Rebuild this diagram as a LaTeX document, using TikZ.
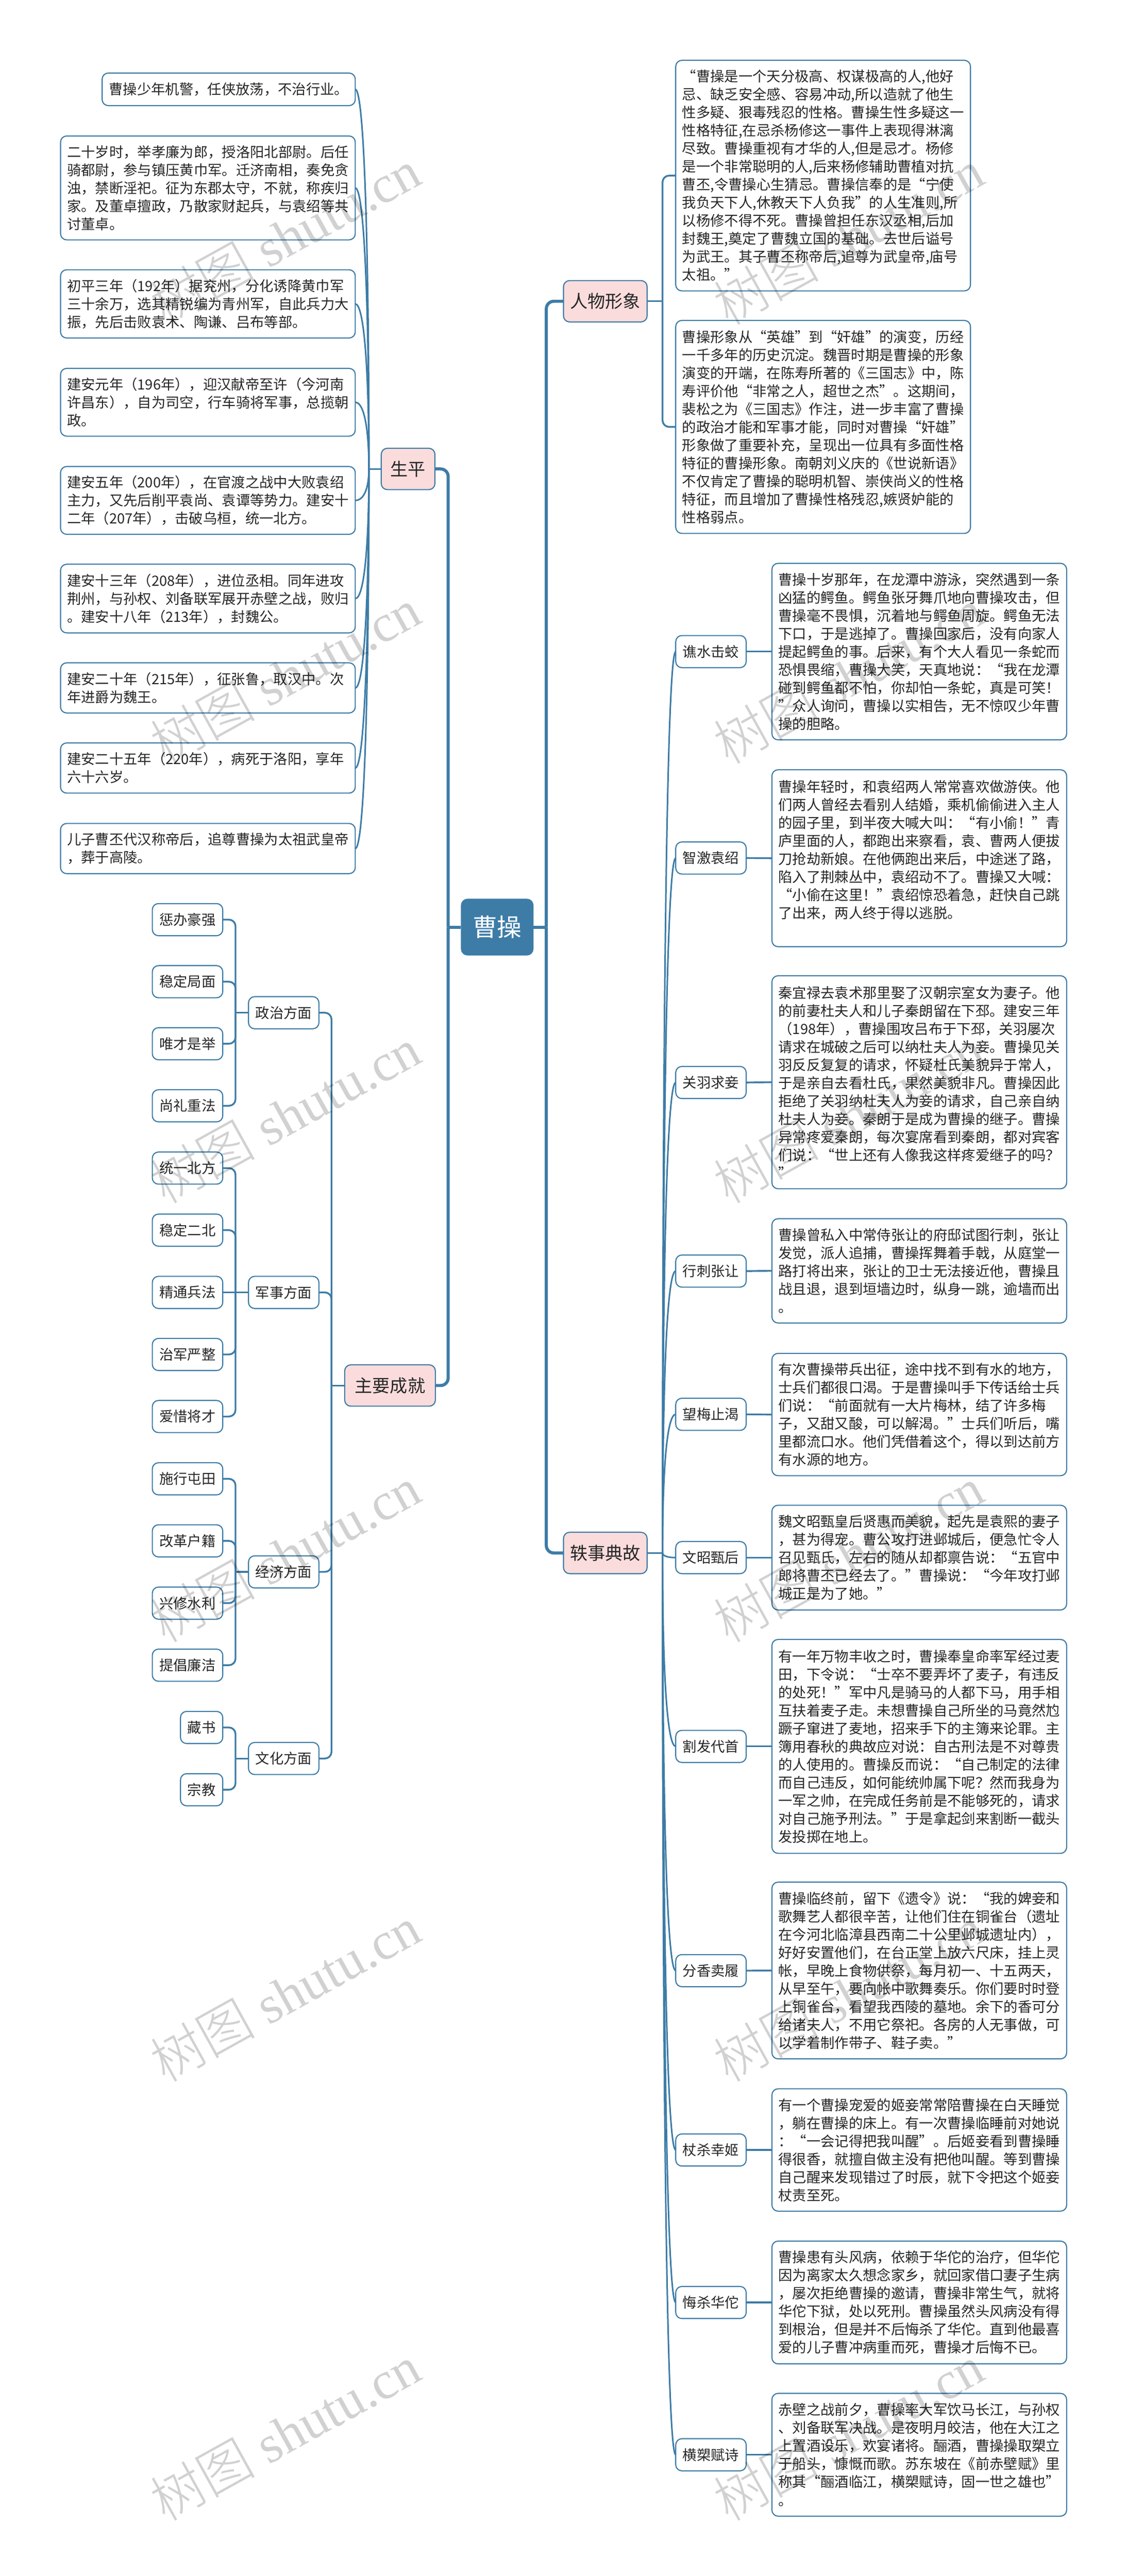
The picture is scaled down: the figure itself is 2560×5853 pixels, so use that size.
\documentclass[tikz,border=0pt]{standalone}
\usepackage{fontspec}
\setmainfont{Noto Sans CJK SC}
\newfontfamily\wmfont{Liberation Serif}
\newfontfamily\wmcjk{Noto Sans CJK SC Light}
\definecolor{mapblue}{HTML}{3D7CA6}
\definecolor{mappink}{HTML}{FBDCDC}
\definecolor{textdark}{HTML}{262626}
\tikzset{
	tagbox/.style={draw=mapblue, line width=2.5pt, rounded corners=14pt, fill=white, text=textdark, inner sep=0pt, outer sep=0pt, minimum width=160pt, minimum height=73pt, font=\fontsize{32}{41}\selectfont},
	notebox/.style={tagbox, anchor=north west, minimum height=0pt, minimum width=0pt, align=left, text width=640pt, inner xsep=14.75pt},
	topicbox/.style={tagbox, fill=mappink, minimum height=94pt, font=\fontsize{40}{48}\selectfont},
	rootbox/.style={draw=none, fill=mapblue, text=white, rounded corners=15pt, inner sep=0pt, outer sep=0pt, minimum width=165pt, minimum height=129pt, font=\fontsize{56}{64}\selectfont},
	trunkline/.style={draw=mapblue, line width=7pt, rounded corners=17pt},
	elbowline/.style={draw=mapblue, line width=4pt, rounded corners=15pt},
	curveline/.style={draw=mapblue, line width=3.5pt},
	wmark/.style={text=black, opacity=0.18, rotate=29, inner sep=0pt, font=\wmfont\fontsize{120}{120}\selectfont}
}

\begin{document}
\begin{tikzpicture}[x=1pt, y=-1pt]
		%%%%% START %%%%%
		\useasboundingbox (0, 0) rectangle (2560, 5853);
		\fill[white] (0, 0) rectangle (2560, 5853);
		
		\node[rootbox] (caocao) at (1129.5, 2106.5) {曹操};
		
		\node[topicbox, minimum width=122pt] (shengping) at (927, 1065.5) {生平};
		\node[topicbox, minimum width=206pt] (chengjiu) at (886, 3148) {主要成就};
		\node[topicbox, minimum width=190pt] (renwu) at (1375, 684.5) {人物形象};
		\node[topicbox, minimum width=190pt] (yishi) at (1375, 3528.5) {轶事典故};
		
		%%%%% left top %%%%%
		\node[notebox, text width=544pt, inner xsep=15.5pt, minimum height=74pt] (spa) at (232, 166) {曹操少年机警，任侠放荡，不治行业。};
		\node[notebox, minimum height=236pt] (spb) at (137.5, 309) {二十岁时，举孝廉为郎，授洛阳北部尉。后任\\骑都尉，参与镇压黄巾军。迁济南相，奏免贪\\浊，禁断淫祀。征为东郡太守，不就，称疾归\\家。及董卓擅政，乃散家财起兵，与袁绍等共\\讨董卓。};
		\node[notebox, minimum height=155pt] (spc) at (137.5, 613) {初平三年（192年）据兖州，分化诱降黄巾军\\三十余万，选其精锐编为青州军，自此兵力大\\振，先后击败袁术、陶谦、吕布等部。};
		\node[notebox, minimum height=154pt] (spd) at (137.5, 837) {建安元年（196年），迎汉献帝至许（今河南\\许昌东），自为司空，行车骑将军事，总揽朝\\政。};
		\node[notebox, minimum height=154pt] (spe) at (137.5, 1060) {建安五年（200年），在官渡之战中大败袁绍\\主力，又先后削平袁尚、袁谭等势力。建安十\\二年（207年），击破乌桓，统一北方。};
		\node[notebox, minimum height=156pt] (spf) at (137.5, 1282) {建安十三年（208年），进位丞相。同年进攻\\荆州，与孙权、刘备联军展开赤壁之战，败归\\。建安十八年（213年），封魏公。};
		\node[notebox, minimum height=114pt] (spg) at (137.5, 1506) {建安二十年（215年），征张鲁，取汉中。次\\年进爵为魏王。};
		\node[notebox, minimum height=114pt] (sph) at (137.5, 1688) {建安二十五年（220年），病死于洛阳，享年\\六十六岁。};
		\node[notebox, minimum height=114pt] (spi) at (137.5, 1871) {儿子曹丕代汉称帝后，追尊曹操为太祖武皇帝\\，葬于高陵。};
		\coordinate (spjoin) at (838, 1065.5);
		
		\foreach \n/\c in {a/-517, b/-383, c/-225, d/-91, e/43, f/177, g/298, h/408, i/517}
			\draw[curveline] (sp\n.east) .. controls +(20, 0) and +(0, \c) .. (spjoin);
		\draw[elbowline] (spjoin) -- (shengping.west);
		
		%%%%% left bottom %%%%%
		\node[tagbox, minimum width=160pt] (zza) at (426, 2089.5) {惩办豪强};
		\node[tagbox] (zzb) at (426, 2230.5) {稳定局面};
		\node[tagbox] (zzc) at (426, 2371.5) {唯才是举};
		\node[tagbox] (zzd) at (426, 2512.5) {尚礼重法};
		\node[tagbox] (jsa) at (426, 2654) {统一北方};
		\node[tagbox] (jsb) at (426, 2795) {稳定二北};
		\node[tagbox] (jsc) at (426, 2936.5) {精通兵法};
		\node[tagbox] (jsd) at (426, 3077.5) {治军严整};
		\node[tagbox] (jse) at (426, 3218.5) {爱惜将才};
		\node[tagbox] (jja) at (426, 3360) {施行屯田};
		\node[tagbox] (jjb) at (426, 3501) {改革户籍};
		\node[tagbox] (jjc) at (426, 3642.5) {兴修水利};
		\node[tagbox] (jjd) at (426, 3783.5) {提倡廉洁};
		\node[tagbox, minimum width=96pt] (wha) at (458, 3925) {藏书};
		\node[tagbox, minimum width=96pt] (whb) at (458, 4066.5) {宗教};
		
		\node[tagbox] (zz) at (644.5, 2301) {政治方面};
		\node[tagbox] (js) at (644.5, 2936.5) {军事方面};
		\node[tagbox] (jj) at (644.5, 3571.5) {经济方面};
		\node[tagbox] (wh) at (644.5, 3995.5) {文化方面};
		
		\coordinate (zzjoin) at (535, 2301);
		\coordinate (jsjoin) at (535, 2936.5);
		\coordinate (jjjoin) at (535, 3571.5);
		\coordinate (whjoin) at (535, 3995.5);
		\coordinate (cjjoin) at (753, 3148);
		
		\foreach \n in {zza, zzb, zzc, zzd}
			\draw[elbowline] (\n.east) -| (zzjoin);
		\foreach \n in {jsa, jsb, jsd, jse}
			\draw[elbowline] (\n.east) -| (jsjoin);
		\foreach \n in {jja, jjb, jjc, jjd}
			\draw[elbowline] (\n.east) -| (jjjoin);
		\foreach \n in {wha, whb}
			\draw[elbowline] (\n.east) -| (whjoin);
		\draw[elbowline] (jsc.east) -- (js.west);
		\draw[elbowline] (zzjoin) -- (zz.west);
		\draw[elbowline] (jjjoin) -- (jj.west);
		\draw[elbowline] (whjoin) -- (wh.west);
		
		\foreach \n in {zz, js, jj, wh}
			\draw[elbowline] (\n.east) -| (cjjoin);
		\draw[elbowline] (cjjoin) -- (chengjiu.west);
		
		%%%%% right top %%%%%
		\node[notebox, minimum height=524pt] (rwa) at (1535, 137) {“曹操是一个天分极高、权谋极高的人,他好\\忌、缺乏安全感、容易冲动,所以造就了他生\\性多疑、狠毒残忍的性格。曹操生性多疑这一\\性格特征,在忌杀杨修这一事件上表现得淋漓\\尽致。曹操重视有才华的人,但是忌才。杨修\\是一个非常聪明的人,后来杨修辅助曹植对抗\\曹丕,令曹操心生猜忌。曹操信奉的是“宁使\\我负天下人,休教天下人负我”的人生准则,所\\以杨修不得不死。曹操曾担任东汉丞相,后加\\封魏王,奠定了曹魏立国的基础。去世后谥号\\为武王。其子曹丕称帝后,追尊为武皇帝,庙号\\太祖。”};
		\node[notebox, minimum height=484pt] (rwb) at (1535, 728) {曹操形象从“英雄”到“奸雄”的演变，历经\\一千多年的历史沉淀。魏晋时期是曹操的形象\\演变的开端，在陈寿所著的《三国志》中，陈\\寿评价他“非常之人，超世之杰”。这期间，\\裴松之为《三国志》作注，进一步丰富了曹操\\的政治才能和军事才能，同时对曹操“奸雄”\\形象做了重要补充，呈现出一位具有多面性格\\特征的曹操形象。南朝刘义庆的《世说新语》\\不仅肯定了曹操的聪明机智、崇侠尚义的性格\\特征，而且增加了曹操性格残忍,嫉贤妒能的\\性格弱点。};
		\coordinate (rwjoin) at (1505, 684.5);
		
		\foreach \n in {rwa, rwb}
			\draw[elbowline] (\n.west) -| (rwjoin);
		\draw[elbowline] (renwu.east) -- (rwjoin);
		
		%%%%% right bottom %%%%%
		\node[tagbox] (yia) at (1615, 1480.5) {谯水击蛟};
		\node[tagbox] (yib) at (1615, 1949.5) {智激袁绍};
		\node[tagbox] (yic) at (1615, 2459.5) {关羽求妾};
		\node[tagbox] (yid) at (1615, 2888) {行刺张让};
		\node[tagbox] (yie) at (1615, 3213.5) {望梅止渴};
		\node[tagbox] (yif) at (1615, 3539) {文昭甄后};
		\node[tagbox] (yig) at (1615, 3968) {割发代首};
		\node[tagbox] (yih) at (1615, 4477.5) {分香卖履};
		\node[tagbox] (yii) at (1615, 4885) {杖杀幸姬};
		\node[tagbox] (yij) at (1615, 5231.5) {悔杀华佗};
		\node[tagbox] (yik) at (1615, 5577.5) {横槊赋诗};
		
		\node[notebox, minimum height=401pt] (tya) at (1753.5, 1280) {曹操十岁那年，在龙潭中游泳，突然遇到一条\\凶猛的鳄鱼。鳄鱼张牙舞爪地向曹操攻击，但\\曹操毫不畏惧，沉着地与鳄鱼周旋。鳄鱼无法\\下口，于是逃掉了。曹操回家后，没有向家人\\提起鳄鱼的事。后来，有个大人看见一条蛇而\\恐惧畏缩，曹操大笑，天真地说：“我在龙潭\\碰到鳄鱼都不怕，你却怕一条蛇，真是可笑！\\”众人询问，曹操以实相告，无不惊叹少年曹\\操的胆略。};
		\node[notebox, minimum height=402pt] (tyb) at (1753.5, 1749) {曹操年轻时，和袁绍两人常常喜欢做游侠。他\\们两人曾经去看别人结婚，乘机偷偷进入主人\\的园子里，到半夜大喊大叫：“有小偷！”青\\庐里面的人，都跑出来察看，袁、曹两人便拔\\刀抢劫新娘。在他俩跑出来后，中途迷了路，\\陷入了荆棘丛中，袁绍动不了。曹操又大喊：\\“小偷在这里！”袁绍惊恐着急，赶快自己跳\\了出来，两人终于得以逃脱。\\\mbox{}};
		\node[notebox, minimum height=484pt] (tyc) at (1753.5, 2217) {秦宜禄去袁术那里娶了汉朝宗室女为妻子。他\\的前妻杜夫人和儿子秦朗留在下邳。建安三年\\（198年），曹操围攻吕布于下邳，关羽屡次\\请求在城破之后可以纳杜夫人为妾。曹操见关\\羽反反复复的请求，怀疑杜氏美貌异于常人，\\于是亲自去看杜氏，果然美貌非凡。曹操因此\\拒绝了关羽纳杜夫人为妾的请求，自己亲自纳\\杜夫人为妾。秦朗于是成为曹操的继子。曹操\\异常疼爱秦朗，每次宴席看到秦朗，都对宾客\\们说：“世上还有人像我这样疼爱继子的吗？\\”};
		\node[notebox, minimum height=237pt] (tyd) at (1753.5, 2769) {曹操曾私入中常侍张让的府邸试图行刺，张让\\发觉，派人追捕，曹操挥舞着手戟，从庭堂一\\路打将出来，张让的卫士无法接近他，曹操且\\战且退，退到垣墙边时，纵身一跳，逾墙而出\\。};
		\node[notebox, minimum height=278pt] (tye) at (1753.5, 3075) {有次曹操带兵出征，途中找不到有水的地方，\\士兵们都很口渴。于是曹操叫手下传话给士兵\\们说：“前面就有一大片梅林，结了许多梅\\子，又甜又酸，可以解渴。”士兵们听后，嘴\\里都流口水。他们凭借着这个，得以到达前方\\有水源的地方。};
		\node[notebox, minimum height=238pt] (tyf) at (1753.5, 3420) {魏文昭甄皇后贤惠而美貌，起先是袁熙的妻子\\，甚为得宠。曹公攻打进邺城后，便急忙令人\\召见甄氏，左右的随从却都禀告说：“五官中\\郎将曹丕已经去了。”曹操说：“今年攻打邺\\城正是为了她。”};
		\node[notebox, minimum height=486pt] (tyg) at (1753.5, 3725) {有一年万物丰收之时，曹操奉皇命率军经过麦\\田，下令说：“士卒不要弄坏了麦子，有违反\\的处死！”军中凡是骑马的人都下马，用手相\\互扶着麦子走。未想曹操自己所坐的马竟然尥\\蹶子窜进了麦地，招来手下的主簿来论罪。主\\簿用春秋的典故应对说：自古刑法是不对尊贵\\的人使用的。曹操反而说：“自己制定的法律\\而自己违反，如何能统帅属下呢？然而我身为\\一军之帅，在完成任务前是不能够死的，请求\\对自己施予刑法。”于是拿起剑来割断一截头\\发投掷在地上。};
		\node[notebox, minimum height=401.5pt] (tyh) at (1753.5, 4276.5) {曹操临终前，留下《遗令》说：“我的婢妾和\\歌舞艺人都很辛苦，让他们住在铜雀台（遗址\\在今河北临漳县西南二十公里邺城遗址内），\\好好安置他们，在台正堂上放六尺床，挂上灵\\帐，早晚上食物供祭，每月初一、十五两天，\\从早至午，要向帐中歌舞奏乐。你们要时时登\\上铜雀台，看望我西陵的墓地。余下的香可分\\给诸夫人，不用它祭祀。各房的人无事做，可\\以学着制作带子、鞋子卖。”};
		\node[notebox, minimum height=278pt] (tyi) at (1753.5, 4746) {有一个曹操宠爱的姬妾常常陪曹操在白天睡觉\\，躺在曹操的床上。有一次曹操临睡前对她说\\：“一会记得把我叫醒”。后姬妾看到曹操睡\\得很香，就擅自做主没有把他叫醒。等到曹操\\自己醒来发现错过了时辰，就下令把这个姬妾\\杖责至死。};
		\node[notebox, minimum height=279pt] (tyj) at (1753.5, 5092) {曹操患有头风病，依赖于华佗的治疗，但华佗\\因为离家太久想念家乡，就回家借口妻子生病\\，屡次拒绝曹操的邀请，曹操非常生气，就将\\华佗下狱，处以死刑。曹操虽然头风病没有得\\到根治，但是并不后悔杀了华佗。直到他最喜\\爱的儿子曹冲病重而死，曹操才后悔不已。};
		\node[notebox, minimum height=279pt] (tyk) at (1753.5, 5438) {赤壁之战前夕，曹操率大军饮马长江，与孙权\\、刘备联军决战。是夜明月皎洁，他在大江之\\上置酒设乐，欢宴诸将。酾酒，曹操操取槊立\\于船头，慷慨而歌。苏东坡在《前赤壁赋》里\\称其“酾酒临江，横槊赋诗，固一世之雄也”\\。};
		\coordinate (yijoin) at (1505, 3528.5);
		
		\foreach \n/\c in {a/-1229, b/-947, c/-641, d/-384, e/-189, f/6, g/264, h/569, i/814, j/1022, k/1229}
			\draw[curveline] (yi\n.west) .. controls +(-20, 0) and +(0, \c) .. (yijoin);
		\foreach \n in {a, b, c, d, e, f, g, h, i, j, k}
			\draw[elbowline] (yi\n.east) -- (ty\n.west);
		\draw[elbowline] (yishi.east) -- (yijoin);
		
		%%%%% root %%%%%
		\coordinate (leftjoin) at (1018, 2106.5);
		\coordinate (rightjoin) at (1241, 2106.5);
		\draw[trunkline] (shengping.east) -| (leftjoin);
		\draw[trunkline] (chengjiu.east) -| (leftjoin);
		\draw[trunkline] (renwu.west) -| (rightjoin);
		\draw[trunkline] (yishi.west) -| (rightjoin);
		\draw[trunkline] (caocao.west) -- (leftjoin);
		\draw[trunkline] (caocao.east) -- (rightjoin);
		
		%%%%% watermark %%%%%
		\foreach \k/\y in {a/538, b/1536, c/2534, d/3532, e/4530, f/5528} {
			\node[wmark] (wmleft\k) at (647, \y) {{\wmcjk 树图} shutu.cn};
			\node[wmark] (wmright\k) at (1927, \y) {{\wmcjk 树图} shutu.cn};
		}
		%%%%% END %%%%%
	\end{tikzpicture}
\end{document}
